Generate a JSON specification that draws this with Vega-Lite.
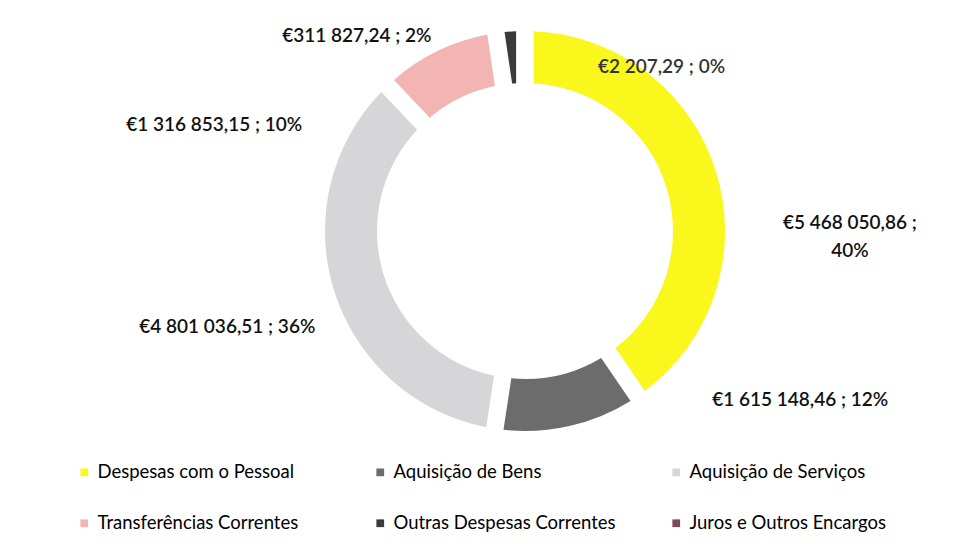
{
  "$schema": "https://vega.github.io/schema/vega-lite/v6.json",
  "width": 888,
  "height": 462,
  "autosize": {"type": "none"},
  "padding": {"left": 81, "right": 3, "top": 0, "bottom": 93},
  "background": "white",
  "data": {
    "values": [
      {"categoria": "Despesas com o Pessoal", "valor": 5468050.86, "ordem": 1, "rotulo": "€5 468 050,86 ;\n40%"},
      {"categoria": "Aquisição de Bens", "valor": 1615148.46, "ordem": 2, "rotulo": "€1 615 148,46 ; 12%"},
      {"categoria": "Aquisição de Serviços", "valor": 4801036.51, "ordem": 3, "rotulo": "€4 801 036,51 ; 36%"},
      {"categoria": "Transferências Correntes", "valor": 1316853.15, "ordem": 4, "rotulo": "€1 316 853,15 ; 10%"},
      {"categoria": "Outras Despesas Correntes", "valor": 311827.24, "ordem": 5, "rotulo": "€311 827,24 ; 2%"},
      {"categoria": "Juros e Outros Encargos", "valor": 2207.29, "ordem": 6, "rotulo": "€2 207,29 ; 0%"}
    ]
  },
  "encoding": {
    "theta": {"field": "valor", "type": "quantitative", "stack": true},
    "order": {"field": "ordem", "type": "quantitative"}
  },
  "layer": [
    {
      "mark": {"type": "arc", "innerRadius": 148, "outerRadius": 200, "padAngle": 0.07},
      "encoding": {
        "color": {
          "field": "categoria",
          "type": "nominal",
          "sort": ["Despesas com o Pessoal", "Aquisição de Bens", "Aquisição de Serviços", "Transferências Correntes", "Outras Despesas Correntes", "Juros e Outros Encargos"],
          "scale": {
            "domain": ["Despesas com o Pessoal", "Aquisição de Bens", "Aquisição de Serviços", "Transferências Correntes", "Outras Despesas Correntes", "Juros e Outros Encargos"],
            "range": ["#f9f71c", "#6c6c6c", "#d6d6d8", "#f2b5b3", "#3b3b3b", "#7d4a5a"]
          },
          "legend": {
            "title": null,
            "orient": "none",
            "legendX": -6,
            "legendY": 463,
            "direction": "horizontal",
            "columns": 3,
            "gridAlign": "all",
            "columnPadding": 51,
            "rowPadding": 32,
            "symbolType": "square",
            "symbolSize": 60,
            "symbolOffset": 0,
            "labelFont": "Lato",
            "labelFontSize": 18.5,
            "labelColor": "#000000",
            "labelOffset": 4,
            "labelLimit": 400
          }
        }
      }
    },
    {
      "mark": {"type": "text", "radius": 226, "align": "center", "baseline": "middle", "lineBreak": "\n", "lineHeight": 28, "dx": 109, "dy": 59, "font": "Lato", "fontSize": 19, "fontWeight": 600, "color": "#111111"},
      "encoding": {
        "text": {"condition": {"test": "datum.categoria === 'Despesas com o Pessoal'", "field": "rotulo"}, "value": ""}
      }
    },
    {
      "mark": {"type": "text", "radius": 226, "align": "left", "baseline": "middle", "dx": 137, "dy": -51, "font": "Lato", "fontSize": 19, "fontWeight": 600, "color": "#111111"},
      "encoding": {
        "text": {"condition": {"test": "datum.categoria === 'Aquisição de Bens'", "field": "rotulo"}, "value": ""}
      }
    },
    {
      "mark": {"type": "text", "radius": 226, "align": "right", "baseline": "middle", "dx": 6, "dy": 28, "font": "Lato", "fontSize": 19, "fontWeight": 600, "color": "#111111"},
      "encoding": {
        "text": {"condition": {"test": "datum.categoria === 'Aquisição de Serviços'", "field": "rotulo"}, "value": ""}
      }
    },
    {
      "mark": {"type": "text", "radius": 226, "align": "right", "baseline": "middle", "dx": -124, "dy": 97, "font": "Lato", "fontSize": 19, "fontWeight": 600, "color": "#111111"},
      "encoding": {
        "text": {"condition": {"test": "datum.categoria === 'Transferências Correntes'", "field": "rotulo"}, "value": ""}
      }
    },
    {
      "mark": {"type": "text", "radius": 226, "align": "right", "baseline": "middle", "dx": -77, "dy": 30, "font": "Lato", "fontSize": 19, "fontWeight": 600, "color": "#111111"},
      "encoding": {
        "text": {"condition": {"test": "datum.categoria === 'Outras Despesas Correntes'", "field": "rotulo"}, "value": ""}
      }
    },
    {
      "mark": {"type": "text", "radius": 226, "align": "left", "baseline": "middle", "dx": 73, "dy": 62, "font": "Lato", "fontSize": 19, "fontWeight": 600, "color": "#333333"},
      "encoding": {
        "text": {"condition": {"test": "datum.categoria === 'Juros e Outros Encargos'", "field": "rotulo"}, "value": ""}
      }
    }
  ],
  "config": {"view": {"stroke": null}}
}
